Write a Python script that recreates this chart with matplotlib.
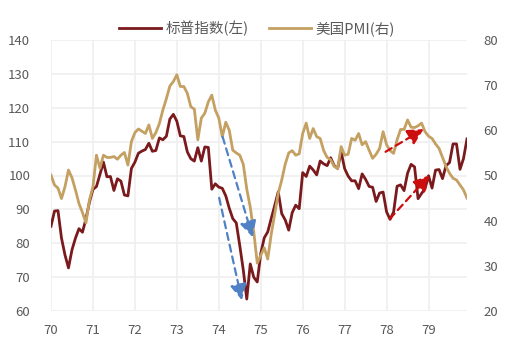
import matplotlib
matplotlib.use("Agg")
import matplotlib.pyplot as plt
import numpy as np

plt.rcParams['font.family'] = ['Noto Sans CJK SC', 'DejaVu Sans']

# Monthly values, Jan 1970 - Dec 1979
sp500 = [
    85.02, 89.50, 89.63, 81.52, 76.55, 72.72, 78.05, 81.52, 84.30, 83.25, 87.20, 92.15,
    95.88, 96.75, 100.31, 103.95, 99.63, 99.70, 95.58, 99.03, 98.34, 94.23, 93.99, 102.09,
    103.94, 106.57, 107.20, 107.67, 109.53, 107.14, 107.39, 111.09, 110.55, 111.58, 116.67, 118.05,
    116.03, 111.68, 111.52, 106.97, 104.95, 104.26, 108.22, 104.25, 108.43, 108.29, 95.96, 97.55,
    96.57, 96.22, 93.98, 90.31, 87.28, 86.00, 79.31, 72.15, 63.54, 73.90, 69.97, 68.56,
    76.98, 81.59, 83.36, 87.30, 91.15, 95.19, 88.75, 86.88, 83.87, 89.04, 91.24, 90.19,
    100.86, 99.71, 102.77, 101.64, 100.18, 104.28, 103.44, 102.91, 105.24, 102.90, 102.10, 107.00,
    102.03, 99.82, 98.42, 98.44, 96.12, 100.48, 98.85, 96.77, 96.53, 92.34, 94.83, 95.10,
    89.25, 87.04, 89.21, 96.83, 97.24, 95.53, 100.68, 103.29, 102.54, 93.15, 94.70, 96.11,
    99.93, 96.28, 101.59, 101.76, 99.08, 102.91, 103.81, 109.32, 109.32, 101.82, 105.00, 110.80,
]

pmi = [
    50.1, 47.9, 47.2, 44.9, 47.5, 51.2, 49.5, 46.8, 43.8, 41.8, 39.5, 44.6,
    47.5, 54.5, 51.6, 54.5, 54.0, 54.0, 54.2, 53.6, 54.5, 55.1, 52.3, 57.5,
    59.5, 60.3, 59.8, 59.3, 61.2, 58.2, 59.5, 61.5, 64.5, 67.0, 69.8, 70.8,
    72.3, 69.7, 69.7, 68.2, 65.2, 64.7, 57.9, 62.7, 63.8, 66.3, 67.8, 64.5,
    62.7, 58.6, 61.8, 60.0, 55.6, 55.0, 54.5, 52.5, 47.0, 43.0, 37.5, 30.6,
    32.3, 34.0, 31.5, 37.0, 41.5, 46.0, 49.0, 52.5, 55.0, 55.5, 54.5, 54.8,
    59.3, 61.6, 58.2, 60.4, 58.6, 58.2, 55.5, 54.0, 53.5, 52.0, 51.6, 56.4,
    54.5, 54.7, 58.2, 57.8, 59.3, 56.8, 57.5, 55.6, 53.8, 54.7, 56.0, 59.7,
    56.8, 55.5, 54.9, 57.9, 60.2, 60.2, 62.3, 60.7, 60.6, 61.0, 61.6, 59.7,
    58.7, 58.2, 57.0, 56.0, 54.0, 52.0, 50.5, 49.4, 49.0, 47.9, 46.8, 45.0,
]

year_labels = ['70', '71', '72', '73', '74', '75', '76', '77', '78', '79']
legend_labels = ['标普指数(左)', '美国PMI(右)']

# Trend arrows: (month, S&P-scale value) start -> end
blue_arrows = [((49.1, 111.4), (57.7, 81.8)), ((48.1, 93.4), (54.6, 63.2))]
red_arrows = [((95.7, 107.0), (106.6, 113.7)), ((96.9, 87.2), (108.3, 100.1))]

sp_color = '#7A1A1C'
pmi_color = '#C4A062'
grid_color = '#EFEFEF'
text_color = '#595959'

fig = plt.figure(figsize=(5.08, 3.42), dpi=100)
ax = fig.add_axes([51 / 508, 1 - 311 / 342, (467 - 51) / 508, (311 - 40) / 342])
ax2 = ax.twinx()

months = np.arange(len(sp500))
l1, = ax.plot(months, sp500, color=sp_color, lw=2.0, solid_joinstyle='round')
l2, = ax2.plot(months, pmi, color=pmi_color, lw=2.0, solid_joinstyle='round')

ax.set_xlim(0, len(sp500) - 1)
ax.set_ylim(60, 140)
ax2.set_ylim(20, 80)
ax.set_xticks(np.arange(0, 120, 12))
ax.set_xticklabels(year_labels)
ax.set_yticks(np.arange(60, 141, 10))
ax2.set_yticks(np.arange(20, 81, 10))

ax.grid(True, color=grid_color, lw=1.2)
ax.set_axisbelow(True)
for a in (ax, ax2):
    for s in a.spines.values():
        s.set_visible(False)
    a.tick_params(length=0, labelsize=9.5, colors=text_color)
ax.tick_params(axis='y', pad=15)
ax.tick_params(axis='x', pad=9)
ax2.tick_params(axis='y', pad=12)

for (start, end), col in [(a, '#4F81C4') for a in blue_arrows] + [(a, '#CC0E0E') for a in red_arrows]:
    ax2.annotate('', xy=end, xycoords=ax.transData, xytext=start, textcoords=ax.transData,
                 arrowprops=dict(arrowstyle='-|>,head_length=0.8,head_width=0.42',
                                 color=col, lw=1.6, linestyle=(0, (3.2, 2.2)),
                                 shrinkA=0, shrinkB=0, mutation_scale=12),
                 zorder=10)

fig.legend([l1, l2], legend_labels, loc='center', bbox_to_anchor=(0.506, 0.918),
           ncol=2, frameon=False, fontsize=10.5, handlelength=2.9, handletextpad=0.3,
           columnspacing=1.4, labelcolor=text_color)

fig.savefig('out.png', dpi=100)
